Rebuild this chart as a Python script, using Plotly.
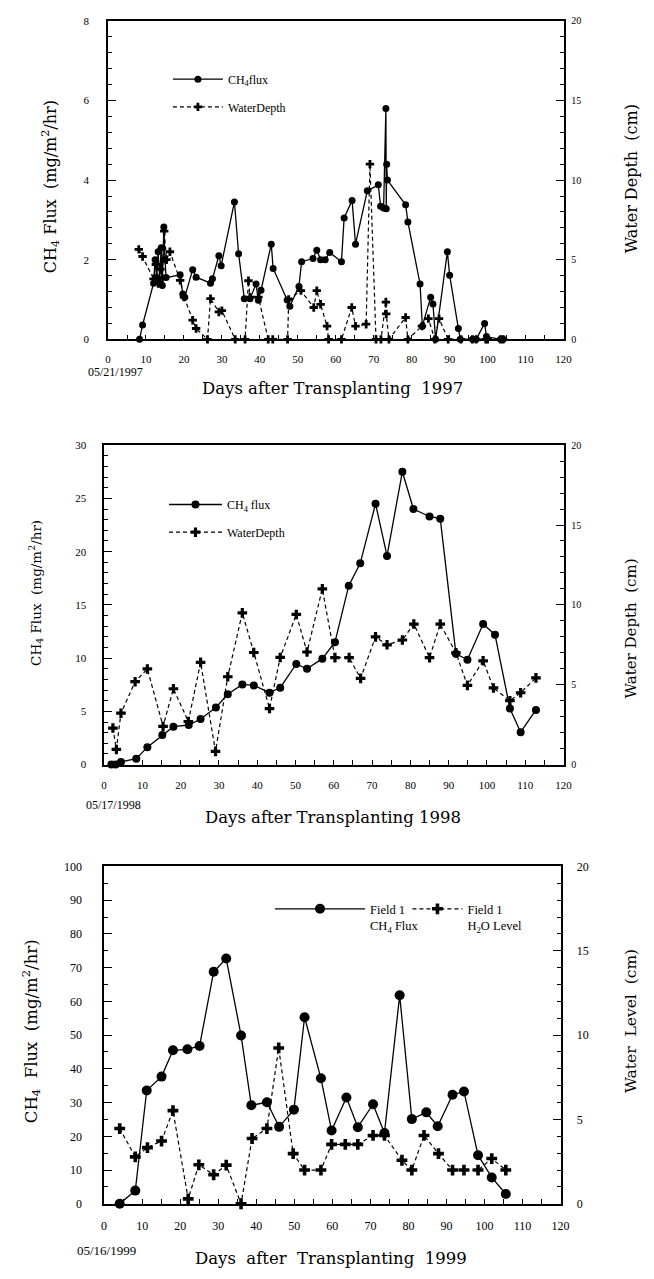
import plotly.graph_objects as go

# ---------------- data ----------------
# 1997
days97_flux = [8.3, 9.1, 12.0, 12.4, 12.8, 13.2, 13.6, 14.0, 14.3, 14.7, 15.0, 15.3, 19.0, 19.7, 20.2,
               22.3, 23.2, 27.0, 27.5, 29.2, 29.8, 33.3, 34.4, 35.9, 37.4, 39.0, 39.6, 40.3, 43.0, 43.5,
               47.2, 47.9, 50.3, 51.0, 54.0, 55.0, 56.0, 57.2, 58.4, 61.5, 62.2, 64.3, 65.2, 68.3, 71.2,
               71.8, 72.6, 73.2, 73.3, 73.4, 73.6, 78.4, 79.0, 82.2, 82.8, 85.0, 85.6, 86.3, 89.4, 90.0,
               92.3, 92.8, 96.0, 97.0, 99.2, 99.7, 103.4, 104.1]
flux97 = [0, 0.36, 1.41, 2.0, 1.55, 2.2, 1.5, 2.3, 1.35, 2.82, 2.0, 1.55, 1.62, 1.14, 1.06,
          1.75, 1.56, 1.41, 1.52, 2.1, 1.85, 3.45, 2.15, 1.02, 1.02, 1.39, 0.98, 1.23, 2.39, 1.78,
          0.99, 0.83, 1.33, 1.95, 2.03, 2.24, 2.0, 2.0, 2.18, 1.95, 3.05, 3.49, 2.39, 3.73, 3.88,
          3.34, 3.3, 5.8, 3.28, 4.4, 4.0, 3.38, 2.95, 1.39, 0.33, 1.06, 0.89, 0, 2.2, 1.61,
          0.27, 0, 0, 0, 0.4, 0.07, 0, 0]
days97_wd = [8.1, 9.1, 12.0, 12.6, 13.2, 13.8, 14.3, 14.8, 15.4, 16.3, 19.0, 20.0, 22.3, 23.2, 26.2,
             27.0, 29.2, 30.0, 33.5, 36.1, 37.0, 37.4, 39.6, 42.2, 43.4, 47.3, 47.6, 50.8, 54.2, 55.0,
             56.0, 57.7, 58.1, 61.5, 64.2, 65.2, 68.0, 69.0, 70.6, 71.9, 73.2, 73.3, 74.0, 78.4, 79.0,
             82.7, 84.4, 86.1, 87.2, 89.6, 93.0, 96.0, 97.0, 99.5, 100.0, 103.4, 104.1]
wd97 = [5.65, 5.2, 3.8, 4.7, 3.5, 4.4, 3.8, 6.8, 5.0, 5.5, 3.7, 2.65, 1.2, 0.68, 0,
        2.55, 1.72, 1.8, 0, 0, 3.68, 2.65, 2.65, 0, 0, 0, 2.5, 3.06, 2.0, 3.06,
        2.2, 0.83, 0, 0, 2.0, 0.83, 0.95, 11.0, 0, 0, 2.34, 1.6, 0, 1.37, 0,
        0.83, 1.3, 0, 1.3, 0, 0, 0, 0, 0, 0, 0, 0]

# 1998
days98_flux = [1.9, 3.0, 4.4, 8.4, 11.3, 15.2, 18.1, 22.1, 25.2, 29.2, 32.3, 36.1, 39.1, 43.2, 46.0,
               50.2, 53.0, 57.0, 60.3, 63.9, 66.9, 70.9, 73.9, 77.9, 80.8, 85.0, 87.8, 91.9, 94.9,
               99.0, 102.1, 106.0, 108.8, 112.8]
flux98 = [0, 0, 0.25, 0.56, 1.64, 2.79, 3.56, 3.72, 4.28, 5.36, 6.6, 7.53, 7.44, 6.76, 7.22,
          9.45, 9.0, 9.95, 11.5, 16.8, 18.9, 24.5, 19.6, 27.5, 24.0, 23.3, 23.1, 10.4, 9.85,
          13.2, 12.2, 5.27, 3.04, 5.14]
days98_wd = [2.3, 3.2, 4.4, 8.1, 11.3, 15.4, 18.1, 22.0, 25.2, 29.1, 32.3, 36.1, 39.1, 43.2, 46.0,
             50.2, 53.0, 57.0, 60.3, 64.0, 67.0, 70.9, 73.9, 77.9, 80.9, 85.0, 87.8, 91.9, 94.9,
             99.0, 101.7, 106.0, 108.8, 112.8]
wd98 = [2.29, 0.95, 3.22, 5.19, 5.99, 2.4, 4.75, 2.7, 6.4, 0.83, 5.5, 9.5, 7.02, 3.51, 6.71,
        9.4, 7.05, 11.0, 6.7, 6.7, 5.4, 8.0, 7.5, 7.8, 8.8, 6.7, 8.8, 7.0, 4.96,
        6.5, 4.8, 4.0, 4.5, 5.43]

# 1999
days99_flux = [4.1, 8.2, 11.2, 15.1, 18.1, 21.9, 25.1, 28.8, 32.1, 36.0, 38.7, 42.8, 46.0, 49.9, 52.7,
               57.0, 59.8, 63.7, 66.7, 70.7, 73.7, 77.7, 80.9, 84.7, 87.7, 91.6, 94.6, 98.3, 101.9, 105.6]
flux99 = [0, 3.9, 33.6, 37.7, 45.5, 45.8, 46.8, 68.8, 72.7, 49.9, 29.2, 30.1, 22.8, 27.9, 55.3,
          37.2, 21.7, 31.5, 22.7, 29.5, 21.0, 61.8, 25.1, 27.1, 23.0, 32.3, 33.3, 14.4, 7.8, 2.9]
days99_wd = [4.1, 8.2, 11.4, 15.1, 18.1, 22.1, 24.9, 28.8, 32.1, 36.0, 38.9, 42.8, 45.9, 49.7, 52.7,
             57.0, 59.8, 63.4, 66.7, 70.7, 73.7, 78.3, 80.9, 84.1, 87.9, 91.6, 94.6, 98.3, 101.9, 105.6]
wd99 = [4.46, 2.78, 3.33, 3.72, 5.52, 0.29, 2.31, 1.72, 2.29, 0, 3.87, 4.46, 9.24, 2.97, 2.0,
        2.0, 3.52, 3.52, 3.52, 4.05, 4.05, 2.58, 2.0, 4.05, 2.97, 2.0, 2.0, 2.0, 2.68, 2.0]

W, H = 654, 1279
FONT = "DejaVu Serif"
TFONT = "Liberation Serif"

def px_x(p):
    return p / W

def px_y(p):
    return 1 - p / H

fig = go.Figure()

solid = dict(color="black", width=1.3)
dashed = dict(color="black", width=1.2, dash="4px,3px")

# panel 1 traces
fig.add_trace(go.Scatter(x=days97_flux, y=flux97, mode="lines+markers", name="CH<sub>4</sub>flux",
                         line=solid, marker=dict(symbol="circle", size=7, color="black"),
                         xaxis="x", yaxis="y", legend="legend", cliponaxis=False))
fig.add_trace(go.Scatter(x=days97_wd, y=wd97, mode="lines+markers", name="WaterDepth",
                         line=dashed, marker=dict(symbol="cross", size=7, color="black"),
                         xaxis="x", yaxis="y2", legend="legend2", cliponaxis=False))
# panel 2 traces
fig.add_trace(go.Scatter(x=days98_flux, y=flux98, mode="lines+markers", name="CH<sub>4</sub> flux",
                         line=solid, marker=dict(symbol="circle", size=8, color="black"),
                         xaxis="x2", yaxis="y3", legend="legend3", cliponaxis=False))
fig.add_trace(go.Scatter(x=days98_wd, y=wd98, mode="lines+markers", name="WaterDepth",
                         line=dashed, marker=dict(symbol="cross", size=8, color="black"),
                         xaxis="x2", yaxis="y4", legend="legend4", cliponaxis=False))
# panel 3 traces
fig.add_trace(go.Scatter(x=days99_flux, y=flux99, mode="lines+markers", name="Field 1<br>CH<sub>4</sub> Flux",
                         line=solid, marker=dict(symbol="circle", size=10, color="black"),
                         xaxis="x3", yaxis="y5", legend="legend5", cliponaxis=False))
fig.add_trace(go.Scatter(x=days99_wd, y=wd99, mode="lines+markers", name="Field 1<br>H<sub>2</sub>O Level",
                         line=dashed, marker=dict(symbol="cross", size=9, color="black"),
                         xaxis="x3", yaxis="y6", legend="legend6", cliponaxis=False))

def xax(dom, anchor, tsize, stand):
    return dict(domain=dom, anchor=anchor, range=[0, 120], dtick=10, tick0=0,
                ticks="inside", ticklen=5, tickwidth=1, tickcolor="black",
                minor=dict(dtick=5, ticks="inside", ticklen=5, tickwidth=1, tickcolor="black"),
                showline=True, linecolor="black", linewidth=1.5, mirror=True,
                showgrid=False, zeroline=False, ticklabelstandoff=stand,
                tickfont=dict(family=TFONT, size=tsize, color="black"))

def yax(dom, anchor, rng, dt, mdt, tsize, stand, side="left", overlay=None):
    d = dict(domain=dom, anchor=anchor, range=rng, dtick=dt, tick0=0, side=side,
             ticks="inside", ticklen=8, tickwidth=1, tickcolor="black",
             minor=dict(dtick=mdt, ticks="inside", ticklen=4, tickwidth=1, tickcolor="black"),
             showline=True, linecolor="black", linewidth=1.5,
             showgrid=False, zeroline=False, ticklabelstandoff=stand,
             tickfont=dict(family=TFONT, size=tsize, color="black"))
    if overlay:
        d["overlaying"] = overlay
    return d

d1x = [px_x(107), px_x(571)]
d1y = [px_y(336), px_y(14)]
d2x = [px_x(103), px_x(571)]
d2y = [px_y(766), px_y(443)]
d3x = [px_x(103), px_x(568)]
d3y = [px_y(1210), px_y(869)]

def leg(x, y, iw, anchor="middle", size=12, valign="middle"):
    return dict(x=px_x(x), y=px_y(y), xanchor="left", yanchor=anchor, itemwidth=iw, valign=valign,
                bgcolor="rgba(0,0,0,0)", borderwidth=0,
                font=dict(family=TFONT, size=size, color="black"))

fig.update_layout(
    width=W, height=H, margin=dict(l=0, r=0, t=0, b=0),
    paper_bgcolor="white", plot_bgcolor="white", showlegend=True,
    xaxis=xax(d1x, "y", 11, 9),
    yaxis=yax(d1y, "x", [0, 8], 2, 0.4, 11, 15),
    yaxis2=yax(d1y, "x", [0, 20], 5, 1, 10, 4, side="right", overlay="y"),
    xaxis2=xax(d2x, "y3", 11, 9),
    yaxis3=yax(d2y, "x2", [0, 30], 5, 1, 11, 14),
    yaxis4=yax(d2y, "x2", [0, 20], 5, 1, 10, 4, side="right", overlay="y3"),
    xaxis3=xax(d3x, "y5", 12, 10),
    yaxis5=yax(d3y, "x3", [0, 100], 10, 5, 12, 18),
    yaxis6=yax(d3y, "x3", [0, 20], 5, 1, 12, 12, side="right", overlay="y5"),
    legend=leg(168, 73, 50),
    legend2=leg(168, 101, 50),
    legend3=leg(164, 503, 53),
    legend4=leg(164, 531, 53),
    legend5=leg(272, 897, 90, anchor="top", size=12.5, valign="top"),
    legend6=leg(412, 897, 50, anchor="top", size=12.5, valign="top"),
)

ann = []
def A(text, x, y, size, angle=0, font=FONT):
    ann.append(dict(text=text, x=px_x(x), y=px_y(y), xref="paper", yref="paper",
                    showarrow=False, textangle=angle, xanchor="center", yanchor="middle",
                    font=dict(family=font, size=size, color="black")))

# panel 1
A("CH<sub>4</sub> Flux  (mg/m<sup>2</sup>/hr)", 48, 182, 16, -90)
A("Water Depth  (cm)", 640, 174, 16, -90)
A("Days after Transplanting  1997", 336, 386, 16.5)
A("05/21/1997", 115, 369, 12, font=TFONT)
# panel 2
A("CH<sub>4</sub> Flux  (mg/m<sup>2</sup>/hr)", 33, 592, 13.5, -90)
A("Water Depth  (cm)", 640, 628, 15, -90)
A("Days after Transplanting 1998", 336, 819, 16.5)
A("05/17/1998", 113, 807, 12, font=TFONT)
# panel 3
A("CH<sub>4</sub>  Flux  (mg/m<sup>2</sup>/hr)", 28, 1035, 16.5, -90)
A("Water  Level  (cm)", 640, 1025, 15.5, -90)
A("Days  after  Transplanting  1999", 334, 1265, 16.5)
A("05/16/1999", 105, 1257, 13, font=TFONT)
fig.update_layout(annotations=ann)

fig.write_html("out.html")
